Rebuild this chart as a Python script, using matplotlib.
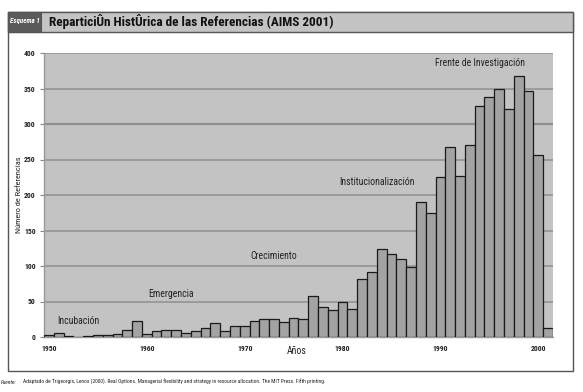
import matplotlib
matplotlib.use("Agg")
import matplotlib.pyplot as plt
from matplotlib.patches import Rectangle
from matplotlib import font_manager

years = list(range(1950, 2002))
refs = [3, 5, 2, 0, 1, 3, 3, 4, 10, 22,
        4, 8, 10, 10, 5, 8, 13, 20, 9, 16,
        15, 23, 25, 26, 21, 27, 26, 58, 42, 38,
        50, 40, 82, 91, 124, 117, 110, 98, 190, 175,
        225, 267, 227, 271, 326, 338, 349, 321, 368, 347,
        256, 13]
xtick_years = [1950, 1960, 1970, 1980, 1990, 2000]
yticks = [0, 50, 100, 150, 200, 250, 300, 350, 400]
phases = ["Incubación", "Emergencia", "Crecimiento", "Institucionalización", "Frente de Investigación"]

names = {f.name for f in font_manager.fontManager.ttflist}
narrow = [n for n in ['Liberation Sans Narrow', 'DejaVu Sans Condensed', 'Roboto Condensed'] if n in names]
plt.rcParams['font.family'] = narrow + ['Liberation Sans', 'DejaVu Sans']

W, H = 583, 392
fig = plt.figure(figsize=(W / 100, H / 100), dpi=100)
fig.patch.set_facecolor('white')

def fx(px):
    return px / W

def fy(py):
    return 1 - py / H

# outer frame and header
frame = Rectangle((fx(8), fy(371)), fx(573) - fx(8), fy(12) - fy(371),
                  transform=fig.transFigure, facecolor='none', edgecolor='#555555', lw=1.0, zorder=-1)
fig.patches.append(frame)
header = Rectangle((fx(8), fy(32)), fx(573) - fx(8), fy(12) - fy(32),
                   transform=fig.transFigure, facecolor='#c4c4c4', edgecolor='#555555', lw=1.0, zorder=-1)
fig.patches.append(header)
tag = Rectangle((fx(8), fy(32)), fx(41) - fx(8), fy(12) - fy(32),
                transform=fig.transFigure, facecolor='#5a5a5a', edgecolor='#555555', lw=0.8, zorder=-1)
fig.patches.append(tag)
fig.text(fx(24.5), fy(21), "Esquema 1", color='white', fontsize=5, style='italic',
         fontweight='bold', ha='center', va='center')
fig.text(fx(49), fy(21.5), "ReparticiÛn HistÛrica de las Referencias (AIMS 2001)", color='#111111',
         fontsize=9.5, fontweight='bold', ha='left', va='center')

ax = fig.add_axes([fx(44), fy(337), fx(553) - fx(44), fy(53) - fy(337)])
ax.set_zorder(2)
ax.set_facecolor('#c3c3c3')
ax.bar(years, refs, width=1.0, color='#a3a3a3', edgecolor='#1a1a1a', linewidth=0.9, zorder=3)
ax.set_xlim(1949.5, 2001.5)
ax.set_ylim(0, 400)
ax.set_yticks(yticks)
ax.set_yticklabels([str(v) for v in yticks], fontsize=5.5, fontweight='bold', color='#222222')
ax.set_xticks(xtick_years)
ax.set_xticklabels([str(v) for v in xtick_years], fontsize=5.5, fontweight='bold', color='#222222')
ax.tick_params(axis='y', length=3, width=0.8, color='#888888', pad=3)
ax.tick_params(axis='x', length=0, pad=6)
for y in yticks[1:]:
    ax.axhline(y, color='#909090', lw=1.6 if y == 300 else 1.1, zorder=1)
for s in ['top', 'right']:
    ax.spines[s].set_visible(False)
ax.spines['left'].set_color('#999999')
ax.spines['left'].set_linewidth(1.0)
ax.spines['bottom'].set_color('#999999')
ax.spines['bottom'].set_linewidth(1.0)

ax.set_ylabel("Número de Referencias", fontsize=6, color='#222222')
ax.yaxis.set_label_coords(-0.043, 0.5)
ax.text(1975.3, -13, "Años", fontsize=7, color='#222222', ha='center', va='top')

labels_xy = [(1953.0, 23), (1962.5, 61), (1973.0, 114), (1983.5, 219), (1994.0, 386)]
for name, (x, y) in zip(phases, labels_xy):
    ax.text(x, y, name, fontsize=7, color='#222222', ha='center', va='center', zorder=5)

fig.text(fx(1), fy(382), "Fuente:", fontsize=4, style='italic', color='#222222', ha='left', va='center')
fig.text(fx(23), fy(382), "Adaptado de Trigeorgis, Lenos (2000). Real Options. Managerial flexibility and strategy in resource allocation. The MIT Press. Fifth printing.",
         fontsize=4, color='#222222', ha='left', va='center')

fig.savefig("out.png", dpi=100, facecolor='white')
